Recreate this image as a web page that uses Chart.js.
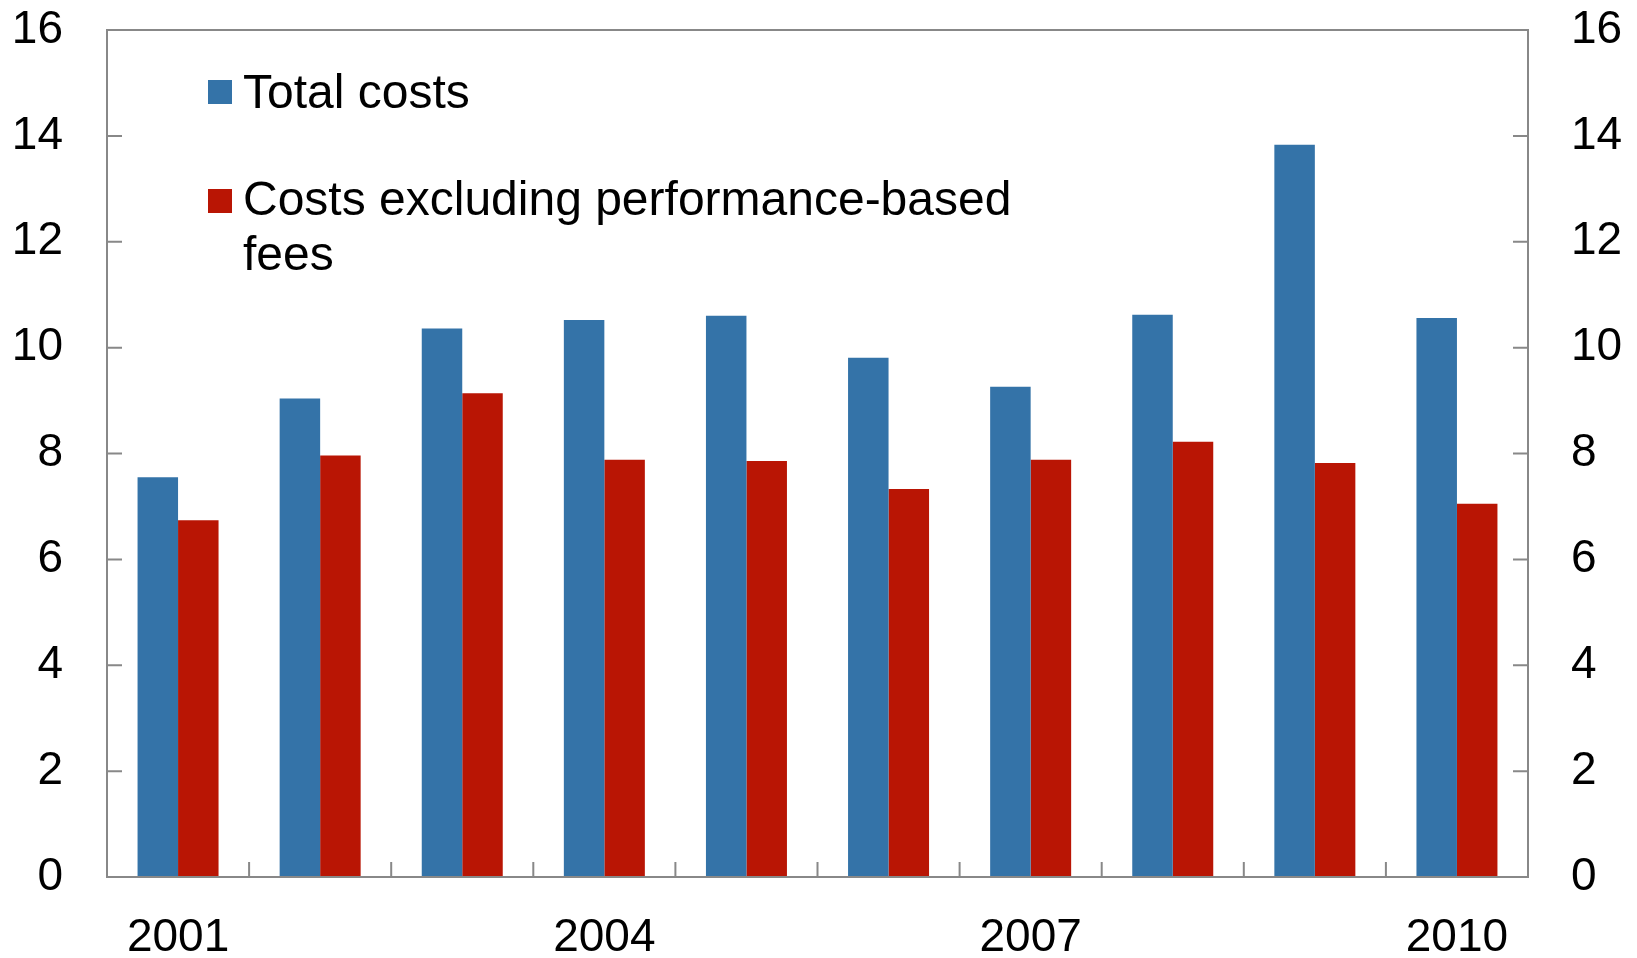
<!DOCTYPE html>
<html>
<head>
<meta charset="utf-8">
<script src="https://cdn.jsdelivr.net/npm/chart.js@4"></script>
<style>
    body { margin: 0; background: #fff; }
    #wrap { position: relative; width: 1637px; height: 958px; }
    .legend-item { position: absolute; font-family: "Liberation Sans", Arial, sans-serif; font-size: 48px; line-height: 55px; color: #000; }
    .swatch { position: absolute; width: 24px; height: 24px; }
</style>
</head>
<body>
<div id="wrap">
    <canvas id="chart"></canvas>
    <div class="swatch" style="left:208px; top:80px; background:#3473a8;"></div>
    <div class="legend-item" style="left:243px; top:64px; width:820px;">Total costs</div>
    <div class="swatch" style="left:208px; top:189px; background:#b91504;"></div>
    <div class="legend-item" style="left:243px; top:171px; width:820px;">Costs excluding performance-based fees</div>
</div>
<script>
var years = ["2001", "2002", "2003", "2004", "2005", "2006", "2007", "2008", "2009", "2010"];
var totalCosts = [7.55, 9.04, 10.36, 10.52, 10.60, 9.81, 9.26, 10.62, 13.83, 10.56];
var costsExclPerf = [6.74, 7.96, 9.14, 7.88, 7.86, 7.33, 7.88, 8.22, 7.82, 7.05];
var shownYears = ["2001", "2004", "2007", "2010"];

var axisColor = "#888888",
    tickFont = { family: "Liberation Sans", size: 46 };

/* frame round the plot plus the short inward tick marks */
var framePlugin = {
    id: "frame",
    afterDraw: function(chart) {
        var ctx = chart.ctx,
            area = chart.chartArea,
            yS = chart.scales.y,
            xS = chart.scales.x,
            tickLen = 15;

        ctx.save();
        ctx.strokeStyle = axisColor;
        ctx.lineWidth = 2;
        ctx.strokeRect(area.left, area.top, area.right - area.left, area.bottom - area.top);

        ctx.beginPath();
        yS.ticks.forEach(function(t) {
            var py = yS.getPixelForValue(t.value);
            ctx.moveTo(area.left, py);
            ctx.lineTo(area.left + tickLen, py);
            ctx.moveTo(area.right, py);
            ctx.lineTo(area.right - tickLen, py);
        });
        // category boundaries on the bottom axis
        for (var i = 1; i < years.length; i++) {
            var px = (xS.getPixelForValue(i - 1) + xS.getPixelForValue(i)) / 2;
            ctx.moveTo(px, area.bottom);
            ctx.lineTo(px, area.bottom - tickLen);
        }
        ctx.stroke();
        ctx.restore();
    }
};

function fixY(width) {
    return function(s) {
        s.width = width;
        s.paddingTop = 30;
        s.paddingBottom = 0;
    };
}

new Chart(document.getElementById("chart"), {
    type: "bar",
    data: {
        labels: years,
        datasets: [
            { label: "Total costs", data: totalCosts, backgroundColor: "#3473a8", yAxisID: "y" },
            { label: "Costs excluding performance-based fees", data: costsExclPerf, backgroundColor: "#b91504", yAxisID: "y" }
        ]
    },
    options: {
        responsive: true,
        maintainAspectRatio: false,
        animation: false,
        categoryPercentage: 0.57,
        barPercentage: 1.0,
        layout: { padding: 0 },
        plugins: {
            legend: { display: false },
            tooltip: { enabled: false }
        },
        scales: {
            x: {
                grid: { display: false },
                border: { display: false },
                ticks: {
                    color: "#000",
                    font: tickFont,
                    autoSkip: false,
                    maxRotation: 0,
                    padding: 26,
                    callback: function(v, i) {
                        return shownYears.indexOf(years[i]) >= 0 ? years[i] : "";
                    }
                },
                afterFit: function(s) { s.height = 81; }
            },
            y: {
                position: "left",
                min: 0,
                max: 16,
                grid: { display: false },
                border: { display: false },
                ticks: { stepSize: 2, color: "#000", font: tickFont, padding: 36 },
                afterFit: fixY(107)
            },
            y2: {
                position: "right",
                min: 0,
                max: 16,
                grid: { display: false },
                border: { display: false },
                ticks: { stepSize: 2, color: "#000", font: tickFont, padding: 35 },
                afterFit: fixY(109)
            }
        }
    },
    plugins: [framePlugin]
});
</script>
</body>
</html>
